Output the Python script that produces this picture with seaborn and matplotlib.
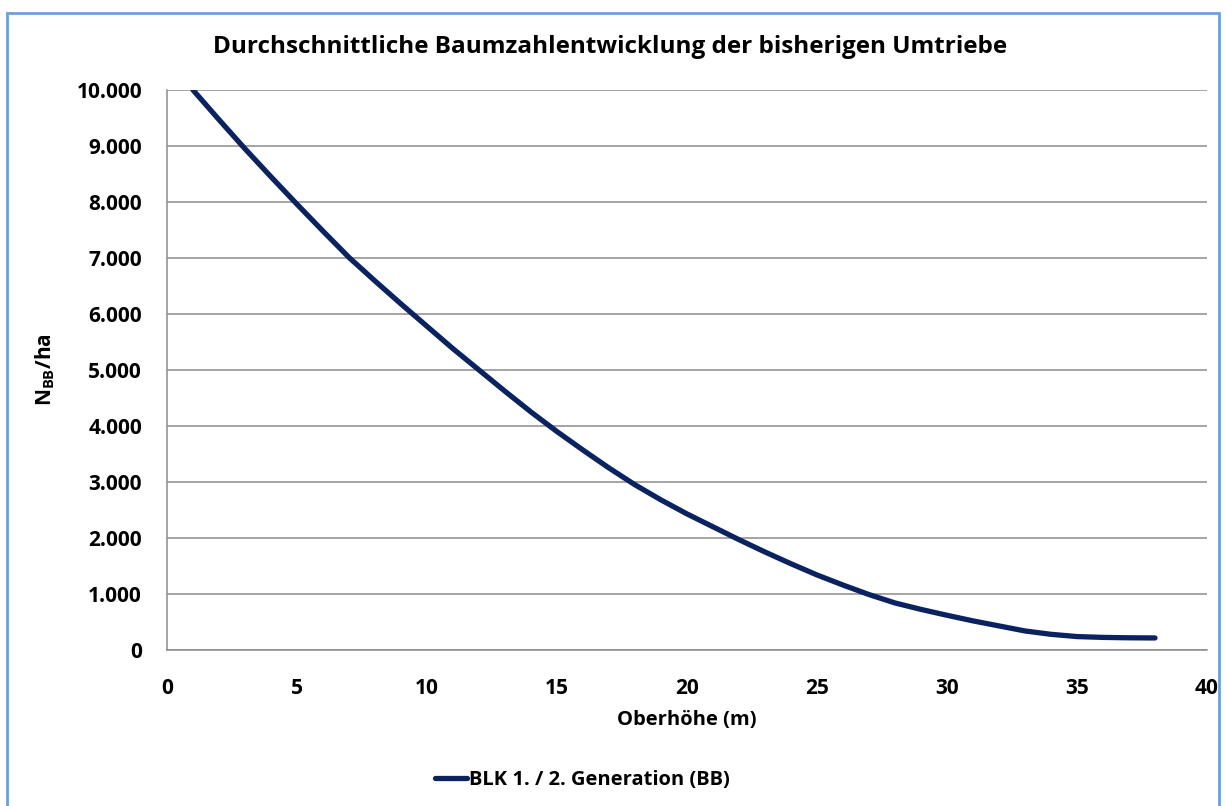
import numpy as np
import pandas as pd
import seaborn as sns
from matplotlib import pyplot as plt
from matplotlib.patches import Rectangle
from matplotlib.ticker import FuncFormatter

# values
oberhoehe = list(range(1, 39))
baumzahl = [10000, 9470, 8950, 8450, 7960, 7480, 7010, 6590, 6180, 5780,
            5380, 5000, 4620, 4250, 3900, 3570, 3250, 2950, 2680, 2430,
            2200, 1970, 1750, 1540, 1340, 1160, 990, 840, 725, 620,
            520, 430, 340, 280, 240, 225, 218, 215]
serie = 'BLK 1. / 2. Generation (BB)'

df = pd.DataFrame({'Oberhöhe': oberhoehe, 'N': baumzahl})

sns.set_theme(style='white')
fam = 'Open Sans'
plt.rcParams['font.family'] = [fam, 'DejaVu Sans']
plt.rcParams['font.weight'] = 'bold'
plt.rcParams['text.color'] = 'black'
plt.rcParams['axes.labelcolor'] = 'black'
plt.rcParams['xtick.color'] = 'black'
plt.rcParams['ytick.color'] = 'black'
plt.rcParams['mathtext.fontset'] = 'custom'
plt.rcParams['mathtext.rm'] = fam + ':bold'
plt.rcParams['mathtext.bf'] = fam + ':bold'

fig = plt.figure(figsize=(12.27, 8.06), dpi=100)
ax = fig.add_axes([167/1227, 1-650/806, (1207-167)/1227, (650-90)/806])

sns.lineplot(data=df, x='Oberhöhe', y='N', ax=ax, color='#0a2260', linewidth=3.8,
             label=serie, solid_capstyle='round', legend=False)

ax.set_xlim(0, 40)
ax.set_ylim(0, 10000)
ax.set_xticks(range(0, 41, 5))
ax.set_yticks(range(0, 10001, 1000))
ax.yaxis.set_major_formatter(FuncFormatter(lambda v, p: f'{int(v):,}'.replace(',', '.')))
ax.grid(axis='y', color='#8c8c8c', linewidth=1.1)
ax.set_axisbelow(True)
for s in ['top', 'right']:
    ax.spines[s].set_visible(False)
for s in ['left', 'bottom']:
    ax.spines[s].set_color('#8c8c8c')
    ax.spines[s].set_linewidth(1.1)
ax.tick_params(axis='y', length=0, labelsize=15, pad=18)
ax.tick_params(axis='x', length=0, labelsize=15, pad=20)
for t in ax.get_xticklabels() + ax.get_yticklabels():
    t.set_fontweight('bold')

ax.set_xlabel('Oberhöhe (m)', fontsize=14.5, fontweight='bold', labelpad=8)
ax.set_ylabel(r'N$_{\mathrm{BB}}$/ha', fontsize=15, fontweight='bold', labelpad=14)

fig.text(610/1227, 1-47/806, 'Durchschnittliche Baumzahlentwicklung der bisherigen Umtriebe',
         ha='center', va='center', fontsize=17.5, fontweight='bold')

h, l = ax.get_legend_handles_labels()
fig.legend(h, l, loc='center', bbox_to_anchor=(582/1227, 1-780/806), frameon=False,
           handlelength=1.6, handletextpad=0.1, prop={'weight': 'bold', 'size': 14.5})

fig.patches.append(Rectangle((7/1227, -0.05), (1219-7)/1227, (806-13)/806 + 0.05,
                             transform=fig.transFigure, fill=False,
                             edgecolor='#6f9fd8', linewidth=2))

fig.savefig('out.png', dpi=100)
